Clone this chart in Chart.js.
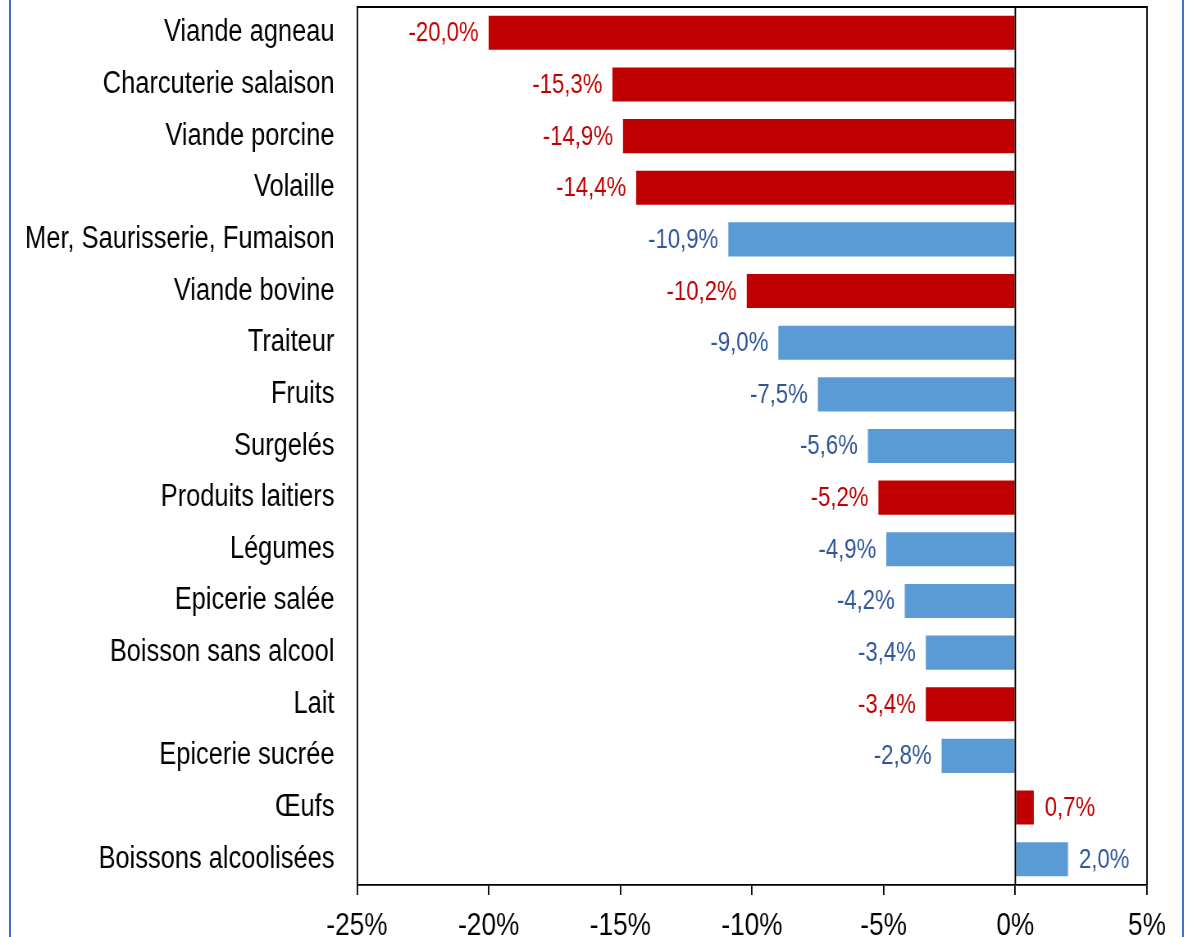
<!DOCTYPE html>
<html>
<head>
<meta charset="utf-8">
<script src="https://cdn.jsdelivr.net/npm/chart.js@4/dist/chart.umd.min.js"></script>
<style>
  html, body { margin: 0; padding: 0; background: #fff; }
  #wrap { position: relative; width: 1188px; height: 937px; overflow: hidden; }
  /* canvas is drawn wider and squeezed to 1188px, which gives the narrow Arial look */
  #chart { position: absolute; left: 0; top: 0; width: 1188px; height: 937px; }
  #frame { position: absolute; left: 9px; top: -10px; width: 1175px; height: 960px;
           border: 2px solid #4472C4; box-sizing: border-box; pointer-events: none; }
</style>
</head>
<body>
<div id="wrap">
  <canvas id="chart" width="1449" height="937" style="width:1188px;height:937px"></canvas>
  <div id="frame"></div>
</div>
<script>
// categories, top to bottom
const categories = [
  'Viande agneau', 'Charcuterie salaison', 'Viande porcine', 'Volaille',
  'Mer, Saurisserie, Fumaison', 'Viande bovine', 'Traiteur', 'Fruits',
  'Surgelés', 'Produits laitiers', 'Légumes', 'Epicerie salée',
  'Boisson sans alcool', 'Lait', 'Epicerie sucrée', 'Œufs', 'Boissons alcoolisées'
];
// variation in %
const values = [
  -20.0, -15.3, -14.9, -14.4, -10.9, -10.2, -9.0, -7.5,
  -5.6, -5.2, -4.9, -4.2, -3.4, -3.4, -2.8, 0.7, 2.0
];
// highlighted (red) categories
const highlighted = [
  true, true, true, true, false, true, false, false,
  false, true, false, false, false, true, false, true, false
];
const xTicks = [-25, -20, -15, -10, -5, 0, 5];

const RED = '#C00000';
const BLUE = '#5B9BD5';
const BLUE_TXT = '#2F559A';
const FONT = "'Liberation Sans', Arial, sans-serif";
const K = 1188 / 1449;      // horizontal squeeze of the canvas
const hx = px => px / K;    // screen px -> canvas px (horizontal)

const fmt = v => v.toFixed(1).replace('.', ',') + '%';

// frame around plot + zero line
const framePlugin = {
  id: 'framePlugin',
  afterDatasetsDraw(chart) {
    const { ctx, chartArea: a, scales } = chart;
    const x0 = scales.x.getPixelForValue(0);
    ctx.save();
    ctx.strokeStyle = '#000';
    ctx.lineWidth = 1.8;
    ctx.beginPath();
    ctx.moveTo(a.left, a.top);
    ctx.lineTo(a.right, a.top);
    ctx.lineTo(a.right, a.bottom);
    ctx.moveTo(x0, a.top);
    ctx.lineTo(x0, a.bottom);
    ctx.stroke();
    ctx.restore();
  }
};

// value labels at bar ends
const labelPlugin = {
  id: 'labelPlugin',
  afterDatasetsDraw(chart) {
    const { ctx } = chart;
    const meta = chart.getDatasetMeta(0);
    ctx.save();
    ctx.font = '27px ' + FONT;
    ctx.textBaseline = 'middle';
    meta.data.forEach((bar, i) => {
      const v = values[i];
      ctx.fillStyle = highlighted[i] ? RED : BLUE_TXT;
      if (v < 0) {
        ctx.textAlign = 'right';
        ctx.fillText(fmt(v), bar.x - hx(10), bar.y + 1);
      } else {
        ctx.textAlign = 'left';
        ctx.fillText(fmt(v), bar.x + hx(11), bar.y + 1);
      }
    });
    ctx.restore();
  }
};

const noPad = s => {
  s.paddingTop = 0; s.paddingBottom = 0;
  s.paddingLeft = 0; s.paddingRight = 0;
};

new Chart(document.getElementById('chart'), {
  type: 'bar',
  data: {
    labels: categories,
    datasets: [{
      data: values,
      backgroundColor: highlighted.map(h => h ? RED : BLUE),
      borderWidth: 0,
      categoryPercentage: 1,
      barPercentage: 0.66
    }]
  },
  options: {
    indexAxis: 'y',
    responsive: false,
    maintainAspectRatio: false,
    animation: false,
    devicePixelRatio: 1,
    layout: { padding: { left: 0, top: 7, right: hx(41), bottom: 0 } },
    plugins: {
      legend: { display: false },
      tooltip: { enabled: false }
    },
    scales: {
      x: {
        min: -25,
        max: 5,
        afterBuildTicks: s => { s.ticks = xTicks.map(v => ({ value: v })); },
        afterFit: s => { s.height = 52; noPad(s); },
        grid: {
          drawOnChartArea: false,
          drawTicks: true,
          tickLength: 10,
          color: '#000',
          lineWidth: 1.8
        },
        border: { display: true, color: '#000', width: 1.8 },
        ticks: {
          padding: 12,
          color: '#000',
          maxRotation: 0,
          font: { family: FONT, size: 32 },
          callback: v => v + '%'
        }
      },
      y: {
        afterFit: s => { s.width = hx(357); noPad(s); },
        grid: { display: false },
        border: { display: true, color: '#000', width: 1.8 },
        ticks: {
          padding: hx(16),
          color: '#000',
          font: { family: FONT, size: 31 }
        }
      }
    }
  },
  plugins: [framePlugin, labelPlugin]
});
</script>
</body>
</html>
